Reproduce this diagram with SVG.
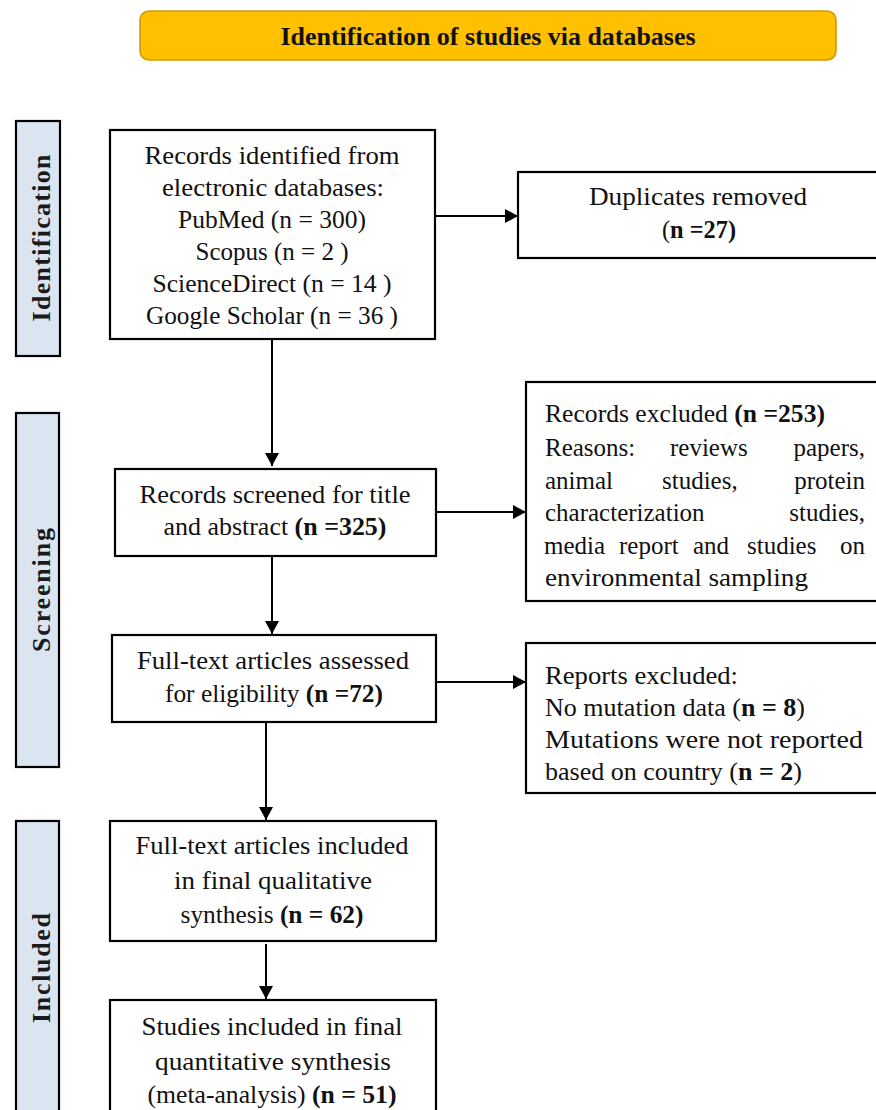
<svg xmlns="http://www.w3.org/2000/svg" width="876" height="1110" viewBox="0 0 876 1110">
<defs>
<style>
.box{fill:#fff;stroke:#000;stroke-width:2.2}
.side{fill:#dbe5f1;stroke:#000;stroke-width:2.2}
.t{font-family:"Liberation Serif","Times New Roman",serif;font-size:25px;fill:#111}
.c{text-anchor:middle}
.e{text-anchor:end}
.b{font-weight:bold}
.sl{font-family:"Liberation Serif","Times New Roman",serif;font-size:26px;font-weight:bold;fill:#1a1a1a;text-anchor:middle}
.ln{stroke:#000;stroke-width:2;fill:none}
</style>
<marker id="ah" markerUnits="userSpaceOnUse" markerWidth="14" markerHeight="14" refX="13" refY="7" orient="auto">
<path d="M0,0 L13,7 L0,14 Z" fill="#000"/>
</marker>
</defs>
<rect width="876" height="1110" fill="#fff"/>

<g id="banner">
<rect x="140" y="11" width="696" height="49" rx="9" fill="#ffc000" stroke="#cf9a0a" stroke-width="1.6"/>
<text x="488" y="45" class="t c b" style="font-size:26px" textLength="415" lengthAdjust="spacingAndGlyphs">Identification of studies via databases</text>
</g>

<g id="side-identification">
<rect x="16" y="121" width="44" height="235" class="side"/>
<text class="sl" transform="translate(50,238) rotate(-90)" textLength="167">Identification</text>
</g>
<g id="side-screening">
<rect x="16" y="413" width="43" height="354" class="side"/>
<text class="sl" transform="translate(50,590) rotate(-90)" textLength="124">Screening</text>
</g>
<g id="side-included">
<rect x="16" y="821" width="43" height="300" class="side"/>
<text class="sl" transform="translate(50,968) rotate(-90)" textLength="110">Included</text>
</g>

<g id="connectors">
<line class="ln" x1="435" y1="216" x2="518" y2="216" marker-end="url(#ah)"/>
<line class="ln" x1="272" y1="339" x2="272" y2="466" marker-end="url(#ah)"/>
<line class="ln" x1="436" y1="512" x2="526" y2="512" marker-end="url(#ah)"/>
<line class="ln" x1="272" y1="556" x2="272" y2="634" marker-end="url(#ah)"/>
<line class="ln" x1="436" y1="682" x2="526" y2="682" marker-end="url(#ah)"/>
<line class="ln" x1="266" y1="722" x2="266" y2="820" marker-end="url(#ah)"/>
<line class="ln" x1="266" y1="944" x2="266" y2="999" marker-end="url(#ah)"/>
</g>

<g id="records-identified">
<rect x="110" y="130" width="325" height="209" class="box"/>
<text x="272" y="164" class="t c" textLength="255" lengthAdjust="spacingAndGlyphs">Records identified from</text>
<text x="273" y="196" class="t c" textLength="222" lengthAdjust="spacingAndGlyphs">electronic databases:</text>
<text x="272" y="228" class="t c" textLength="188" lengthAdjust="spacingAndGlyphs">PubMed (n = 300)</text>
<text x="272" y="260" class="t c" textLength="153" lengthAdjust="spacingAndGlyphs">Scopus (n = 2 )</text>
<text x="272" y="292" class="t c" textLength="239" lengthAdjust="spacingAndGlyphs">ScienceDirect (n = 14 )</text>
<text x="272" y="324" class="t c" textLength="252" lengthAdjust="spacingAndGlyphs">Google Scholar (n = 36 )</text>
</g>

<g id="duplicates">
<rect x="518" y="172" width="370" height="86" class="box"/>
<text x="698" y="205" class="t c" textLength="218" lengthAdjust="spacingAndGlyphs">Duplicates removed</text>
<text x="699" y="238" class="t c" textLength="74" lengthAdjust="spacingAndGlyphs">(<tspan class="b">n =27)</tspan></text>
</g>

<g id="records-screened">
<rect x="115" y="469" width="321" height="87" class="box"/>
<text x="275" y="503" class="t c" textLength="271" lengthAdjust="spacingAndGlyphs">Records screened for title</text>
<text x="275" y="535" class="t c" textLength="223" lengthAdjust="spacingAndGlyphs">and abstract <tspan class="b">(n =325)</tspan></text>
</g>

<g id="records-excluded">
<rect x="526" y="382" width="362" height="219" class="box"/>
<text x="545" y="422" class="t" textLength="280" lengthAdjust="spacingAndGlyphs">Records excluded <tspan class="b">(n =253)</tspan></text>
<text y="456" class="t"><tspan x="545">Reasons:</tspan><tspan x="670">reviews</tspan><tspan x="865" class="e">papers,</tspan></text>
<text y="489" class="t"><tspan x="545">animal</tspan><tspan x="662">studies,</tspan><tspan x="865" class="e">protein</tspan></text>
<text y="521" class="t"><tspan x="545">characterization</tspan><tspan x="865" class="e">studies,</tspan></text>
<text y="554" class="t"><tspan x="544">media</tspan><tspan x="619">report</tspan><tspan x="693">and</tspan><tspan x="747">studies</tspan><tspan x="865" class="e">on</tspan></text>
<text x="545" y="586" class="t" textLength="263" lengthAdjust="spacingAndGlyphs">environmental sampling</text>
</g>

<g id="fulltext-assessed">
<rect x="112" y="635" width="324" height="87" class="box"/>
<text x="273" y="669" class="t c" textLength="272" lengthAdjust="spacingAndGlyphs">Full-text articles assessed</text>
<text x="274" y="702" class="t c" textLength="218" lengthAdjust="spacingAndGlyphs">for eligibility <tspan class="b">(n =72)</tspan></text>
</g>

<g id="reports-excluded">
<rect x="526" y="643" width="362" height="150" class="box"/>
<text x="545" y="684" class="t" textLength="193" lengthAdjust="spacingAndGlyphs">Reports excluded:</text>
<text x="545" y="716" class="t" textLength="260" lengthAdjust="spacingAndGlyphs">No mutation data (<tspan class="b">n = 8</tspan>)</text>
<text x="545" y="748" class="t" textLength="318" lengthAdjust="spacingAndGlyphs">Mutations were not reported</text>
<text x="545" y="780" class="t" textLength="257" lengthAdjust="spacingAndGlyphs">based on country (<tspan class="b">n = 2</tspan>)</text>
</g>

<g id="fulltext-included">
<rect x="110" y="821" width="326" height="120" class="box"/>
<text x="272" y="854" class="t c" textLength="273" lengthAdjust="spacingAndGlyphs">Full-text articles included</text>
<text x="273" y="889" class="t c" textLength="198" lengthAdjust="spacingAndGlyphs">in final qualitative</text>
<text x="272" y="923" class="t c" textLength="183" lengthAdjust="spacingAndGlyphs">synthesis <tspan class="b">(n = 62)</tspan></text>
</g>

<g id="studies-included">
<rect x="110" y="1000" width="326" height="130" class="box"/>
<text x="272" y="1035" class="t c" textLength="261" lengthAdjust="spacingAndGlyphs">Studies included in final</text>
<text x="273" y="1070" class="t c" textLength="236" lengthAdjust="spacingAndGlyphs">quantitative synthesis</text>
<text x="272" y="1103" class="t c" textLength="249" lengthAdjust="spacingAndGlyphs">(meta-analysis) <tspan class="b">(n = 51)</tspan></text>
</g>
</svg>
